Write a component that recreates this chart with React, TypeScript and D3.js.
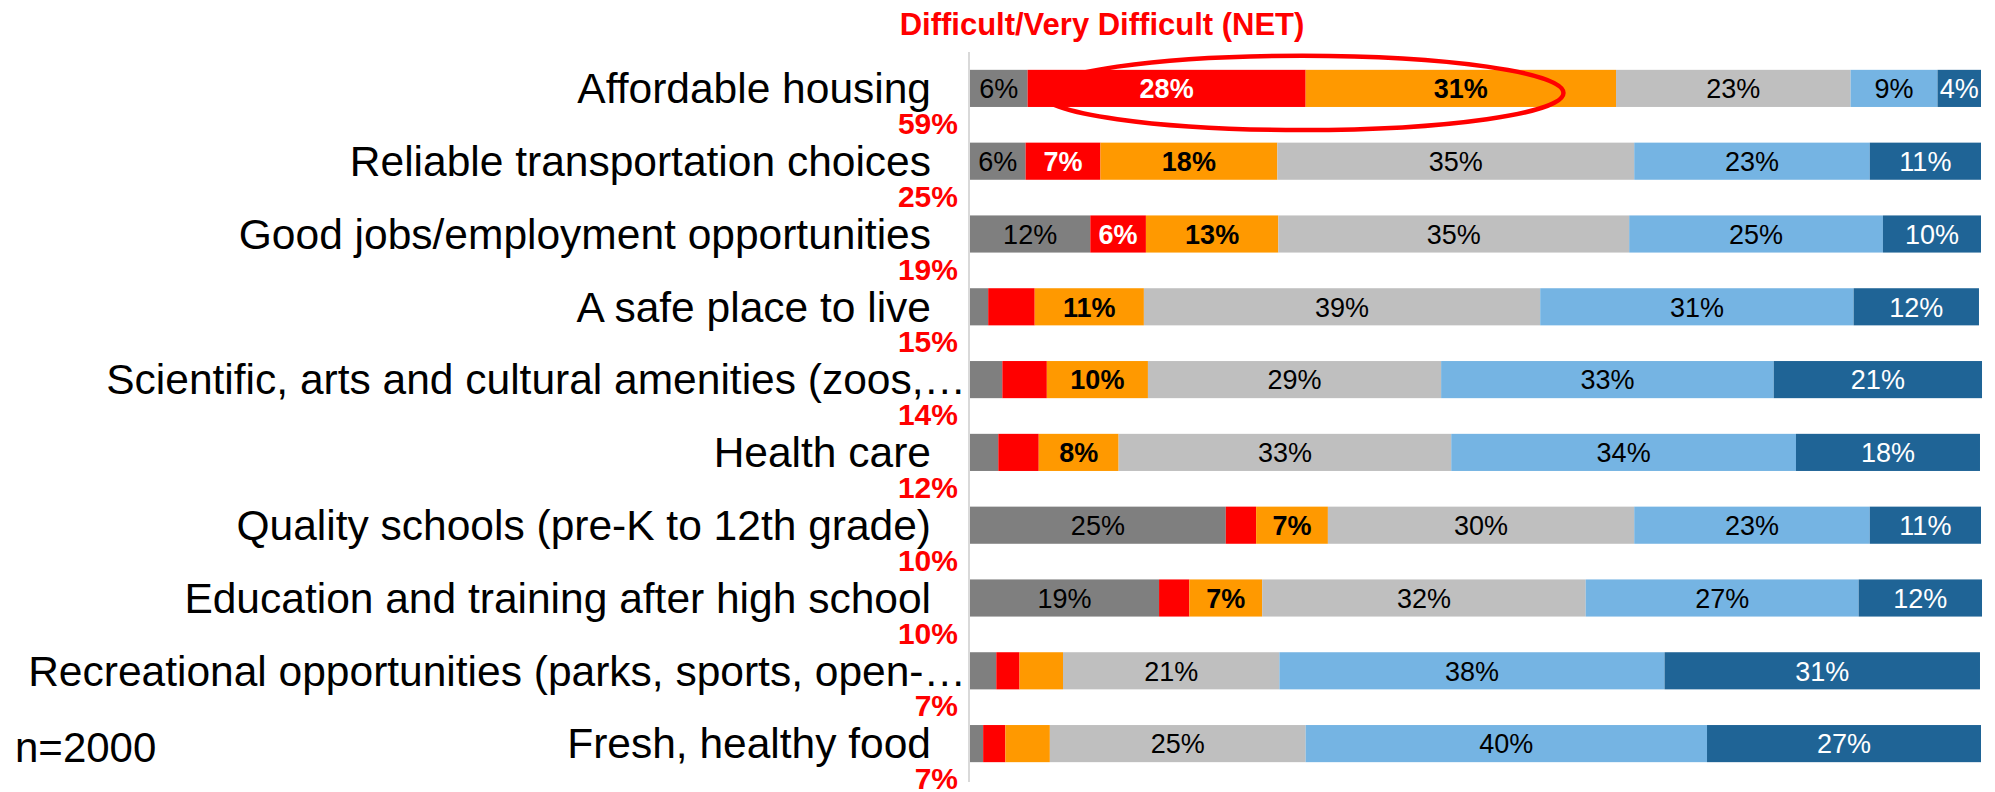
import React from 'react';
import * as d3 from 'd3';

const width = 1995;
const height = 792;

const categories = [
  'Affordable housing',
  'Reliable transportation choices',
  'Good jobs/employment opportunities',
  'A safe place to live',
  'Scientific, arts and cultural amenities (zoos,…',
  'Health care',
  'Quality schools (pre-K to 12th grade)',
  'Education and training after high school',
  'Recreational opportunities (parks, sports, open-…',
  'Fresh, healthy food',
];

// six answer groups, left to right in every bar
const dontKnow = [5.7, 5.5, 11.9, 1.8, 3.2, 2.8, 25.3, 18.7, 2.6, 1.3];
const veryDifficult = [27.5, 7.4, 5.5, 4.6, 4.4, 4.0, 3.0, 3.0, 2.3, 2.2];
const difficult = [30.7, 17.5, 13.1, 10.8, 10.0, 7.9, 7.1, 7.2, 4.3, 4.4];
const neutral = [23.2, 35.3, 34.7, 39.2, 29.0, 32.9, 30.3, 32.0, 21.4, 25.3];
const easy = [8.6, 23.3, 25.1, 31.0, 32.9, 34.1, 23.3, 27.0, 38.1, 39.7];
const veryEasy = [4.3, 11.0, 9.7, 12.4, 20.6, 18.2, 11.0, 12.2, 31.2, 27.1];

const netDifficult = [59, 25, 19, 15, 14, 12, 10, 10, 7, 7];

const keys = ['dontKnow', 'veryDifficult', 'difficult', 'neutral', 'easy', 'veryEasy'];
const colors = ['#7f7f7f', '#ff0000', '#ff9900', '#bfbfbf', '#75b4e3', '#1f6496'];
const labelColors = ['#000', '#fff', '#000', '#000', '#000', '#fff'];
const labelBold = [false, true, true, false, false, false];

const font = '"Liberation Sans", Arial, sans-serif';

export default function App() {
  const rows = categories.map((c, i) => ({
    category: c,
    dontKnow: dontKnow[i],
    veryDifficult: veryDifficult[i],
    difficult: difficult[i],
    neutral: neutral[i],
    easy: easy[i],
    veryEasy: veryEasy[i],
  }));
  const stacked = d3.stack<any>().keys(keys)(rows);

  const x = d3.scaleLinear().domain([0, 100]).range([970, 1981]);
  const y = d3.scaleBand().domain(categories).range([52, 780]).paddingInner(0.49).paddingOuter(0.245);
  const bw = y.bandwidth();

  const first = categories[0];
  const ellCx = (x(7) + x(58.7)) / 2;
  const ellRx = (x(58.7) - x(7)) / 2;
  const ellCy = (y(first) as number) + bw / 2 + 4.5;

  return (
    <svg width={width} height={height} style={{ position: 'absolute', left: 0, top: 0, background: '#fff' }} fontFamily={font}>
      <text x={1102} y={35} textAnchor="middle" fontSize={31} fontWeight="bold" fill="#ff0000">
        Difficult/Very Difficult (NET)
      </text>

      <line x1={969} x2={969} y1={52} y2={782} stroke="#d9d9d9" strokeWidth={2} />

      {stacked.map((s, si) => (
        <g key={s.key}>
          {s.map((d, i) => {
            const yy = y(categories[i]) as number;
            const v = d.data[s.key] as number;
            const showLabel = v >= 5 || si === keys.length - 1;
            return (
              <g key={i}>
                <rect x={x(d[0])} y={yy} width={x(d[1]) - x(d[0])} height={bw} fill={colors[si]} />
                {showLabel && (
                  <text
                    x={(x(d[0]) + x(d[1])) / 2}
                    y={yy + bw / 2 + 9.7}
                    textAnchor="middle"
                    fontSize={27}
                    fontWeight={labelBold[si] ? 'bold' : 'normal'}
                    fill={labelColors[si]}
                  >
                    {Math.round(v)}%
                  </text>
                )}
              </g>
            );
          })}
        </g>
      ))}

      {categories.map((c, i) => {
        const cy = (y(c) as number) + bw / 2;
        const truncated = c.endsWith('…');
        return (
          <g key={c}>
            <text x={truncated ? 966 : 931} y={cy + 14.8} textAnchor="end" fontSize={42.5} fill="#000">
              {c}
            </text>
            <text x={958} y={cy + 45.5} textAnchor="end" fontSize={30} fontWeight="bold" fill="#ff0000">
              {netDifficult[i]}%
            </text>
          </g>
        );
      })}

      <ellipse cx={ellCx} cy={ellCy} rx={ellRx} ry={bw} fill="none" stroke="#ff0000" strokeWidth={4.5} />

      <text x={15} y={762} fontSize={42} fill="#000">n=2000</text>
    </svg>
  );
}
